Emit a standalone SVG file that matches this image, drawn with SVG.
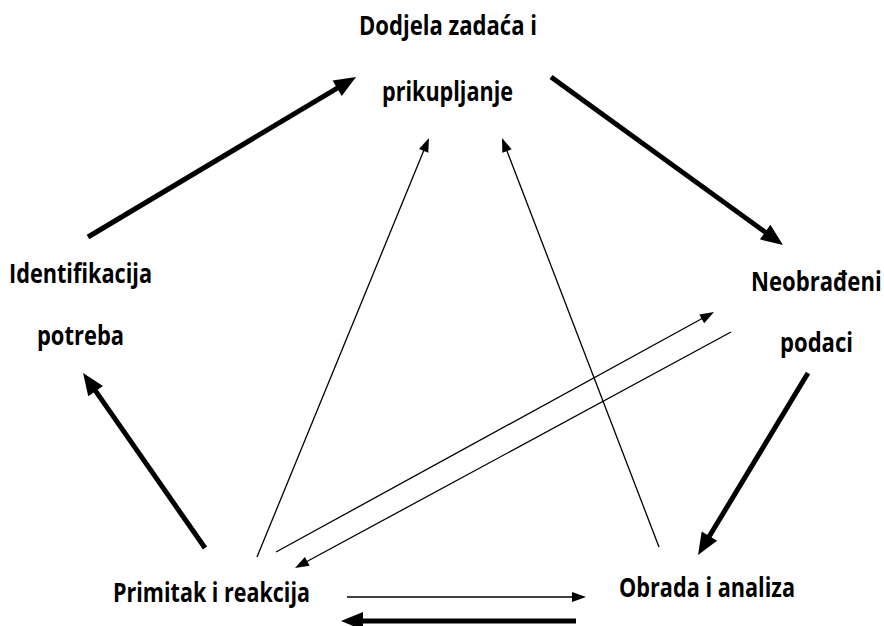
<svg xmlns="http://www.w3.org/2000/svg" width="884" height="626" viewBox="0 0 884 626">
<style>
.lbl{font-family:"Open Sans","Liberation Sans",sans-serif;font-weight:700;font-size:26px;fill:#000}
.thick{stroke:#000;stroke-width:5;fill:none;marker-end:url(#hk)}
.thin{stroke:#000;stroke-width:1.3;fill:none;marker-end:url(#hn)}
</style>
<defs>
<marker id="hk" markerUnits="userSpaceOnUse" markerWidth="22" markerHeight="18" refX="6" refY="9" orient="auto" overflow="visible"><path d="M0,0 L22,9 L0,18 z" fill="#000"/></marker>
<marker id="hn" markerUnits="userSpaceOnUse" markerWidth="14" markerHeight="10" refX="2" refY="5" orient="auto" overflow="visible"><path d="M0,0 L14,5 L0,10 z" fill="#000"/></marker>
</defs>
<rect width="884" height="626" fill="#fff"/>
<g id="n-dodjela"><text class="lbl" x="359" y="35" textLength="178" lengthAdjust="spacingAndGlyphs">Dodjela zadaća i</text><text class="lbl" x="382" y="101" textLength="131" lengthAdjust="spacingAndGlyphs">prikupljanje</text></g>
<g id="n-identifikacija"><text class="lbl" x="9" y="283" textLength="143" lengthAdjust="spacingAndGlyphs">Identifikacija</text><text class="lbl" x="37" y="345" textLength="87" lengthAdjust="spacingAndGlyphs">potreba</text></g>
<g id="n-neobradeni"><text class="lbl" transform="translate(751,291) scale(0.85,1)">Neobrađeni</text><text class="lbl" x="780" y="352" textLength="73" lengthAdjust="spacingAndGlyphs">podaci</text></g>
<g id="n-primitak"><text class="lbl" x="113" y="602" textLength="197" lengthAdjust="spacingAndGlyphs">Primitak i reakcija</text></g>
<g id="n-obrada"><text class="lbl" x="619" y="597" textLength="176" lengthAdjust="spacingAndGlyphs">Obrada i analiza</text></g>
<g id="connectors">
<line class="thick" x1="88" y1="237" x2="342.3" y2="85.2"/>
<line class="thick" x1="551" y1="77" x2="770" y2="235.6"/>
<line class="thick" x1="808" y1="373" x2="706.3" y2="541.3"/>
<line class="thick" x1="205" y1="548" x2="92.2" y2="386.1"/>
<line class="thick" x1="576" y1="621" x2="357" y2="621"/>
<line class="thin" x1="347" y1="597" x2="574" y2="597"/>
<line class="thin" x1="257" y1="557" x2="424.4" y2="149.1"/>
<line class="thin" x1="659" y1="547" x2="506.3" y2="149.2"/>
<line class="thin" x1="276" y1="552" x2="703.5" y2="317.8"/>
<line class="thin" x1="731" y1="332" x2="305.5" y2="562.3"/>
</g>
</svg>
